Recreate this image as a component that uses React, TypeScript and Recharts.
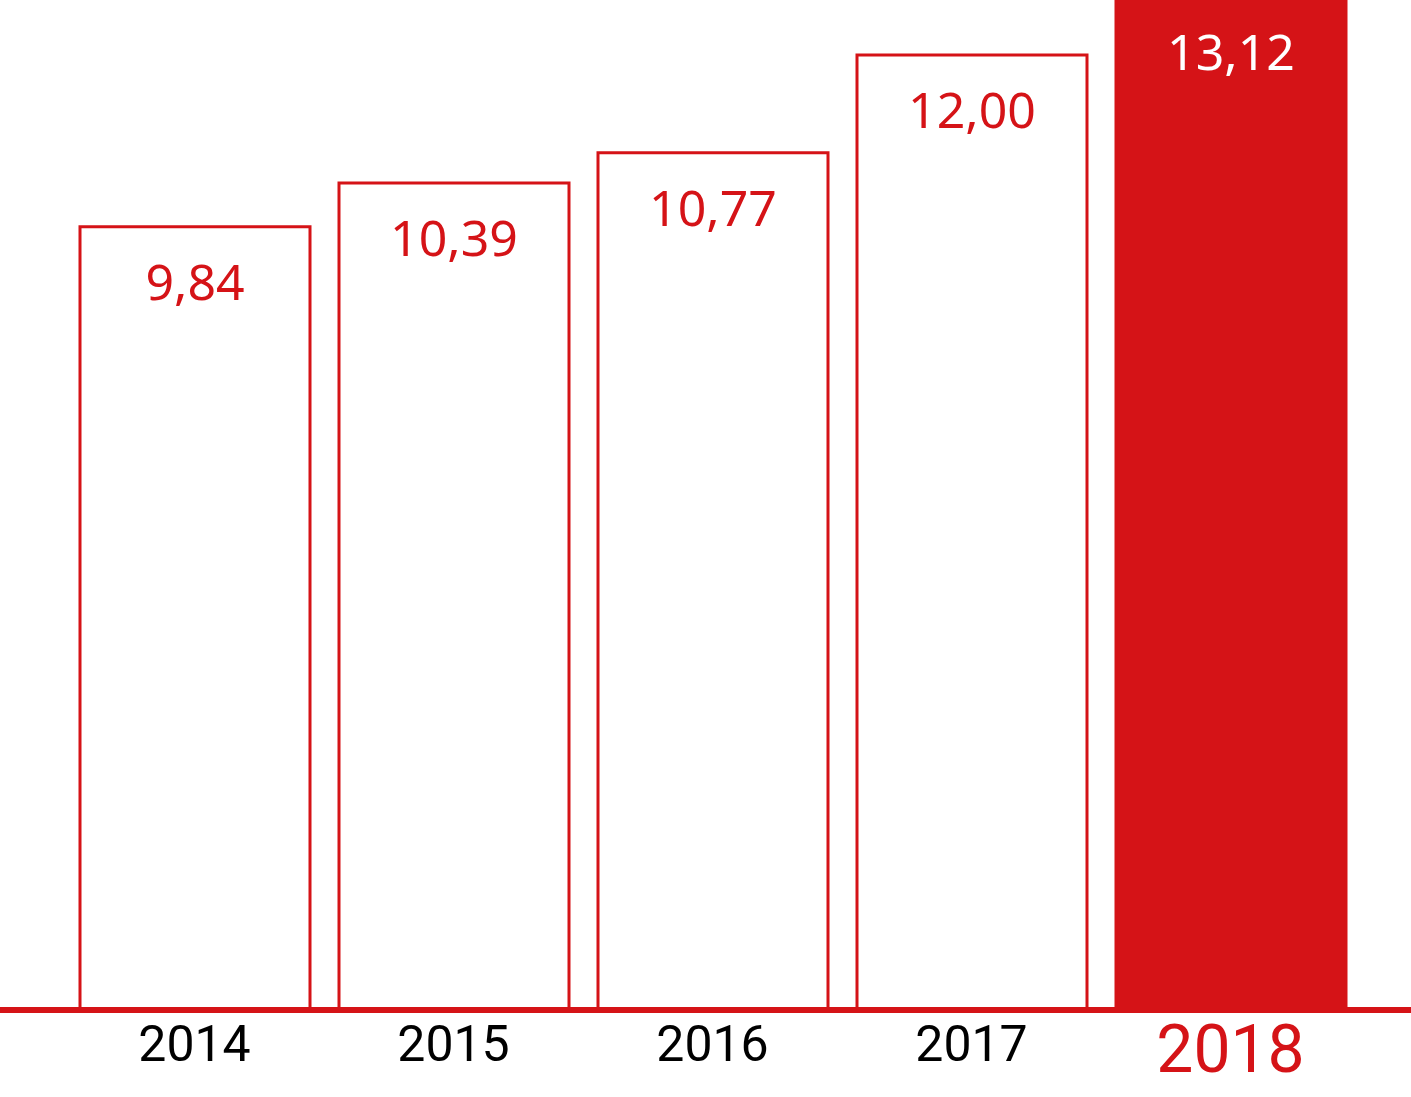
import { Bar, BarChart, Cell, LabelList, XAxis, YAxis } from "recharts";

// ─── Dados ────────────────────────────────────────────────────────────────────
const years = ["2014", "2015", "2016", "2017", "2018"];
const values = [9.84, 10.39, 10.77, 12.0, 13.12];
const highlightIndex = 4;

const RED = "#D51317";

const data = years.map((year, i) => ({ year, value: values[i] }));

const formatValue = (v: number) => v.toFixed(2).replace(".", ",");

// ─── Rótulos ──────────────────────────────────────────────────────────────────
function ValueLabel(props: any) {
  const { x, y, width, value, index } = props;
  const highlight = index === highlightIndex;
  return (
    <text
      x={Number(x) + Number(width) / 2}
      y={Math.max(Number(y), -3) + 54}
      textAnchor="middle"
      dominantBaseline="central"
      fontFamily="'Noto Sans', sans-serif"
      fontSize={50}
      fill={highlight ? "#ffffff" : RED}
    >
      {formatValue(Number(value))}
    </text>
  );
}

function YearTick(props: any) {
  const { x, y, payload, index } = props;
  const highlight = index === highlightIndex;
  return (
    <text
      x={x}
      y={highlight ? y + 31 : y + 26}
      textAnchor="middle"
      dominantBaseline="central"
      fontFamily="Roboto, sans-serif"
      fontSize={highlight ? 66 : 50}
      fill={highlight ? RED : "#000000"}
    >
      {payload.value}
    </text>
  );
}

export default function App() {
  return (
    <div style={{ position: "absolute", left: 0, top: 0, width: 1411, height: 1097, background: "#fff" }}>
      <BarChart
        width={1411}
        height={1097}
        data={data}
        margin={{ top: 0, right: 0, bottom: 0, left: 0 }}
        barSize={230}
      >
        <XAxis
          dataKey="year"
          height={87}
          padding={{ left: 65, right: 51 }}
          axisLine={{ stroke: RED, strokeWidth: 6 }}
          tickLine={false}
          tick={<YearTick />}
          interval={0}
        />
        <YAxis hide domain={[0, 12.69]} allowDataOverflow />
        <Bar dataKey="value" stroke={RED} strokeWidth={3} isAnimationActive={false}>
          {data.map((_, i) => (
            <Cell key={i} fill={i === highlightIndex ? RED : "#ffffff"} />
          ))}
          <LabelList dataKey="value" content={<ValueLabel />} />
        </Bar>
      </BarChart>
    </div>
  );
}
